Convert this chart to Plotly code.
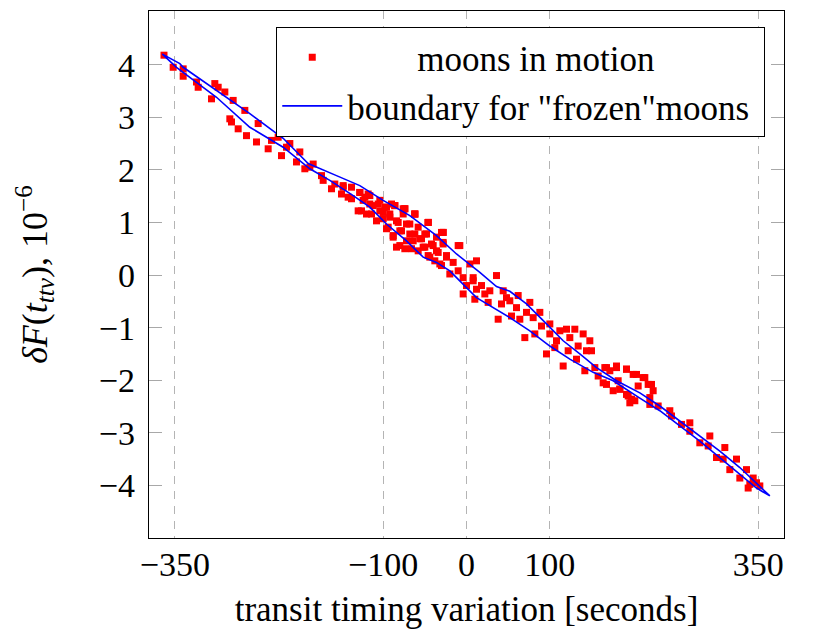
import plotly.graph_objects as go

# upper and lower edge of the "frozen" boundary loop
upper_x = [-365, -344, -340, -300, -260, -220, -190, -156, -128, -100, -68, -36, -12, 16, 36, 52, 72, 96, 116, 136, 156, 180, 208, 232, 256, 280, 304, 328, 348, 364]
upper_y = [4.20, 4.02, 3.95, 3.51, 3.07, 2.60, 2.12, 1.89, 1.70, 1.42, 1.13, 0.75, 0.40, 0.05, -0.22, -0.31, -0.55, -0.93, -1.25, -1.50, -1.76, -2.01, -2.24, -2.49, -2.78, -3.06, -3.35, -3.66, -3.95, -4.20]
lower_x = [-365, -348, -340, -300, -260, -220, -188, -164, -136, -116, -96, -72, -52, -36, -20, 0, 12, 28, 52, 76, 100, 124, 152, 176, 208, 232, 256, 280, 304, 328, 348, 364]
lower_y = [4.20, 3.95, 3.86, 3.38, 2.81, 2.43, 2.02, 1.80, 1.51, 1.29, 0.97, 0.65, 0.34, 0.24, 0.08, -0.24, -0.43, -0.58, -0.81, -1.06, -1.35, -1.60, -1.85, -2.01, -2.34, -2.58, -2.87, -3.16, -3.47, -3.79, -4.05, -4.20]

# moons in motion
moons_x = [
    -363, -352, -340, -340, -324, -322, -306, -302, -298, -290, -280, -284, -282, -274, -266, -264,
    -252, -250, -238, -234, -226, -222, -216, -212, -204, -200, -194, -184,
    -188, -174, -172, -162, -158, -148, -150, -138, -138, -128, -126, -122, -118, -116, -114, -106,
    -104, -100, -98, -94, -92, -86, -88, -84, -80, -80, -74, -74, -72, -68, -64, -62, -58, -56,
    -52, -50, -46, -46, -42, -38, -36, -30, -28, -28, -24, -20, -16, -10, -8, -4, 0, 4, 8, 12, -4, 12,
    -148, -142, -130, -128, -124, -120, -116, -112, -108, -104, -100, -96, -96, -92, -88, -86, -84,
    -82, -78, -76, -74, -72, -68, -66, -62, -62, -58, -54, -50, -48, -46, -44, -40, -36, -34, -32,
    -28, -28, -24, -90, -76, -62, -46, -30, -10,
    8, 10, 18, 22, 26, 28, 36, 38, 42, 44, 48, 52, 54, 60, 62, 64, 70, 72, 76, 80, 82, 88, 90, 100,
    96, 100, 106, 108, 112, 116, 120, 122, 124, 130, 132, 134, 140, 142, 144, 148, 150, 154, 158,
    166, 168, 172, 180, 182, 184, 192, 194, 200, 202, 206,
    168, 180, 192, 204, 214, 222, 224, 220, 198, 192, 184, 176, 164, 196,
    212, 218, 220, 230, 244, 246, 258, 268, 268, 280, 292, 290, 300, 310, 308, 316, 324, 328, 336,
    338, 344, 348, 352, 340,
]
moons_y = [
    4.18, 3.95, 3.92, 3.78, 3.67, 3.57, 3.35, 3.64, 3.57, 3.48, 3.32, 2.97, 2.91, 2.78, 3.13, 2.65,
    2.53, 2.88, 2.40, 2.56, 2.62, 2.27, 2.43, 2.50, 2.15, 2.34, 2.02, 2.11,
    2.05, 1.89, 1.80, 1.64, 1.73, 1.70, 1.54, 1.67, 1.45, 1.57, 1.22, 1.48, 1.54, 1.35, 1.16, 1.35,
    1.22, 1.07, 1.29, 0.91, 1.16, 1.32, 0.75, 1.03, 0.56, 0.84, 1.26, 0.50, 0.97, 0.78, 0.65, 1.16, 0.46, 0.69,
    0.53, 0.78, 1.00, 0.37, 0.59, 0.27, 0.46, 0.18, 0.81, 0.62, 0.34, 0.02, 0.24, 0.08, 0.56, -0.05, -0.20, 0.21, -0.05, 0.27, -0.36, -0.27,
    1.67, 1.48, 1.22, 1.57, 1.42, 1.16, 1.51, 1.32, 1.03, 1.42, 1.19, 1.29, 0.88, 1.10, 0.72, 1.32, 0.53,
    1.00, 0.84, 1.16, 1.26, 0.65, 0.97, 0.50, 1.16, 0.78, 0.91, 0.69, 0.53, 0.78, 1.00, 0.34, 0.56, 0.72, 0.43, 0.21,
    0.59, 0.81, 0.37, 1.35, 1.26, 1.16, 1.00, 0.81, 0.56,
    -0.11, -0.46, -0.20, -0.36, -0.52, -0.30, -0.01, -0.84, -0.55, -0.30, -0.43, -0.49, -0.78, -0.62, -0.39, -0.84, -1.19, -0.71, -0.52, -0.81, -1.12, -0.71, -0.97, -0.93,
    -1.50, -1.12, -1.38, -1.25, -1.06, -1.73, -1.03, -1.44, -1.19, -1.03, -1.60, -1.35, -1.12, -1.82, -1.44, -1.25, -1.44, -1.76, -1.92,
    -1.76, -2.08, -1.82, -1.76, -2.01, -2.17, -1.79, -2.30, -1.89, -2.39, -2.11,
    -1.76, -1.73, -1.79, -1.89, -1.95, -2.08, -2.20, -2.33, -2.36, -2.27, -2.17, -2.20, -2.05, -2.43,
    -1.95, -2.08, -2.46, -2.49, -2.58, -2.68, -2.84, -2.81, -2.97, -3.19, -3.06, -3.25, -3.47, -3.28, -3.50, -3.70, -3.50, -3.86, -3.70,
    -4.05, -3.86, -3.95, -4.01, -3.98,
]

x_ticks = [-350, -100, 0, 100, 350]
y_ticks = [-4, -3, -2, -1, 0, 1, 2, 3, 4]

# closed loop: along the upper edge, back along the lower edge
loop_x = upper_x + lower_x[::-1]
loop_y = upper_y + lower_y[::-1]

serif = "Liberation Serif, 'Times New Roman', Times, serif"

fig = go.Figure()

fig.add_trace(go.Scatter(
    x=moons_x, y=moons_y,
    mode='markers',
    # pgfplots centres the shorter entry, pad it a bit
    name='&nbsp;' * 8 + 'moons in motion',
    marker=dict(symbol='square', size=7, color='#ff0000'),
    legendgroup='a'
))

fig.add_trace(go.Scatter(
    x=loop_x, y=loop_y,
    mode='lines',
    name='boundary for "frozen"moons&nbsp;',
    line=dict(color='#0000ff', width=1.6),
    legendgroup='b'
))

# page body has an 8px margin, so the figure is a bit smaller than the window
fig.update_layout(
    width=810, height=629,
    margin=dict(l=141, r=34, t=3, b=99),
    paper_bgcolor='white',
    plot_bgcolor='white',
    font=dict(family=serif, size=34, color='black'),
    showlegend=True,
    legend=dict(
        x=0.97, y=0.97, xanchor='right', yanchor='top',
        bordercolor='black', borderwidth=1.3,
        bgcolor='white',
        font=dict(family=serif, size=35),
        itemwidth=60,
        tracegroupgap=0,
        traceorder='grouped'
    )
)

fig.update_xaxes(
    range=[-381, 381],
    tickvals=x_ticks,
    tickfont=dict(family=serif, size=34),
    showgrid=True, gridcolor='#b4b4b4', gridwidth=1, griddash='8px,7px',
    zeroline=False,
    showline=True, linecolor='black', linewidth=1.3, mirror=True,
    ticks='', ticklabelstandoff=-4,
    title=dict(text='transit timing variation [seconds]', font=dict(family=serif, size=35), standoff=14)
)

fig.update_yaxes(
    range=[-5.0, 5.02],
    tickvals=y_ticks,
    tickfont=dict(family=serif, size=34),
    showgrid=False,
    zeroline=False,
    showline=True, linecolor='black', linewidth=1.3, mirror='ticks',
    ticks='inside', ticklen=13, tickcolor='#a8a8a8', tickwidth=1,
    ticklabelstandoff=6,
    title=dict(text='<i>δF</i>(<i>t</i><sub><i>ttv</i></sub>), 10<sup>−6</sup>',
               font=dict(family=serif, size=36), standoff=40)
)

fig.write_html("out.html")
